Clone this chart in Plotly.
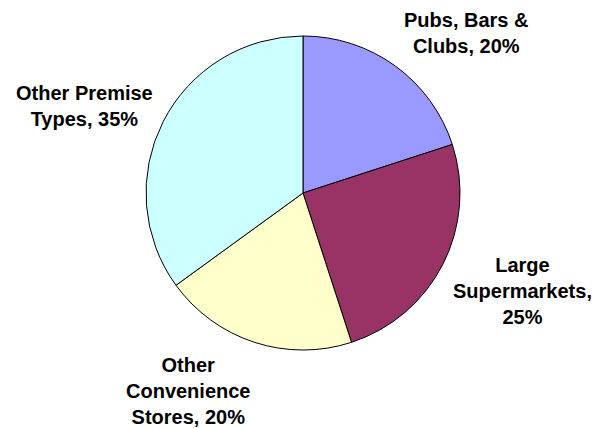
import plotly.graph_objects as go

categories = ["Pubs, Bars & Clubs", "Large Supermarkets", "Other Convenience Stores", "Other Premise Types"]
values = [20, 25, 20, 35]
label_text = ["Pubs, Bars &<br>Clubs, 20%", "Large<br>Supermarkets,<br>25%",
              "Other<br>Convenience<br>Stores, 20%", "Other Premise<br>Types, 35%"]
colors = ["#9999FF", "#993366", "#FFFFCC", "#CCFFFF"]

W, H = 595, 428
cx, cy, r = 303, 193, 157

fig = go.Figure(go.Pie(
    labels=categories, values=values, sort=False, direction="clockwise", rotation=0,
    marker=dict(colors=colors, line=dict(color="black", width=1)),
    textinfo="none", hoverinfo="label+percent", showlegend=False,
    domain=dict(x=[(cx - r) / W, (cx + r) / W], y=[1 - (cy + r) / H, 1 - (cy - r) / H]),
))

label_pos = [(466, 33), (522, 291), (188, 391), (84, 106)]
for txt, (x, y) in zip(label_text, label_pos):
    fig.add_annotation(x=x / W, y=1 - y / H, xref="paper", yref="paper",
                       text="<b>" + txt + "</b>", borderpad=0,
                       showarrow=False, xanchor="center", yanchor="middle", align="center",
                       font=dict(family="Liberation Sans, Arial, sans-serif", size=20, color="black"))

fig.update_layout(width=W, height=H, margin=dict(l=0, r=0, t=0, b=0),
                  paper_bgcolor="white", plot_bgcolor="white")
fig.write_html("out.html", config={"displayModeBar": False},
               post_script="document.body.style.margin='0';document.body.style.overflow='hidden';")
